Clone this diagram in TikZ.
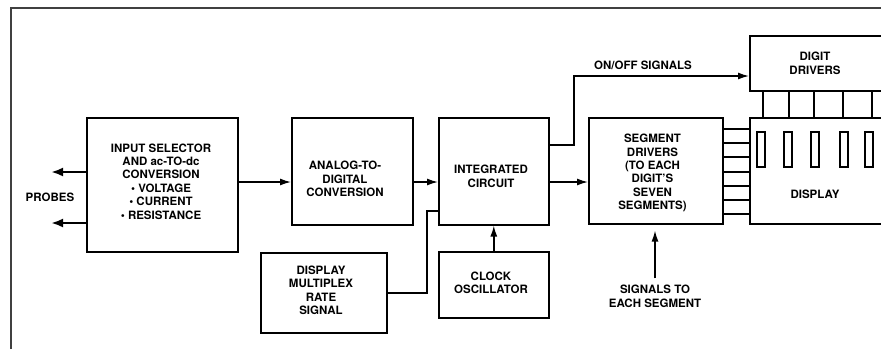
\documentclass[tikz,border=0pt]{standalone}
\usepackage{fontspec}
\setmainfont{TeX Gyre Heros}
\usetikzlibrary{arrows.meta,calc}
\begin{document}
\begin{tikzpicture}[x=1pt,y=-1pt,
  box/.style={draw, line width=1.6pt, inner sep=0pt, anchor=north west},
  txt/.style={font=\fontsize{11.5}{13.4}\selectfont\bfseries, align=center, inner sep=0pt},
  conn/.style={line width=1.4pt},
  arr/.style={conn, -{Latex[length=11pt,width=7pt]}},
  barr/.style={line width=2.4pt, -{Latex[length=12pt,width=9pt]}},
  frame/.style={draw=black!75, line width=1.1pt},
  seg7/.style={draw, line width=1.3pt}
]
\useasboundingbox (0,0) rectangle (881,349);
\clip (0,0) rectangle (881,349);

% frame
\draw[frame] (11,349) -- (11,8) -- (881,8);

% boxes
\node[box, minimum width=151pt, minimum height=134pt] (inp) at (86,117) {};
\node[box, minimum width=121pt, minimum height=107pt] (adc) at (291,117) {};
\node[box, minimum width=110pt, minimum height=107pt] (ic)  at (438,117) {};
\node[box, minimum width=126pt, minimum height=80pt]  (dmr) at (260,252) {};
\node[box, minimum width=110pt, minimum height=66pt]  (clk) at (438,251) {};
\node[box, minimum width=134pt, minimum height=106pt] (seg) at (588,117) {};
\node[box, minimum width=140pt, minimum height=55pt]  (dd)  at (749,35) {};
\node[box, minimum width=140pt, minimum height=106pt] (disp) at (749,117) {};

% texts
\node[txt] (inptxt) at (161,181.5) {INPUT SELECTOR\\AND ac-TO-dc\\CONVERSION\\\textbullet\ VOLTAGE\\\textbullet\ CURRENT\\\textbullet\ RESISTANCE};
\node[txt] (adctxt) at (345,179) {ANALOG-TO-\\DIGITAL\\CONVERSION};
\node[txt] (ictxt) at (491,176.5) {INTEGRATED\\CIRCUIT};
\node[txt] (dmrtxt) at (321,290.5) {DISPLAY\\MULTIPLEX\\RATE\\SIGNAL};
\node[txt] (clktxt) at (491,283) {CLOCK\\OSCILLATOR};
\node[txt] (segtxt) at (652.5,173) {SEGMENT\\DRIVERS\\(TO EACH\\DIGIT'S\\SEVEN\\SEGMENTS)};
\node[txt] (ddtxt) at (815,63.5) {DIGIT\\DRIVERS};
\node[txt] (disptxt) at (815,194) {DISPLAY};
\node[txt] (probes) at (50,197) {PROBES};
\node[txt] (onoff) at (643,65) {ON/OFF SIGNALS};
\node[txt] (sigtxt) at (655,296.5) {SIGNALS TO\\EACH SEGMENT};

% helper coordinates
\coordinate (mainy) at (0,182);
\coordinate (pa) at (51,172);
\coordinate (pb) at (51,223);
\coordinate (onA) at (574,145);
\coordinate (onB) at (574,76);
\coordinate (muxA) at (427,293);
\coordinate (muxB) at (427,211);

% probe arrows
\draw[barr] (inp.west |- pa) -- (pa);
\draw[barr] (inp.west |- pb) -- (pb);

% main flow
\draw[arr] (inp.east |- mainy) -- (adc.west |- mainy);
\draw[arr] (adc.east |- mainy) -- (ic.west |- mainy);
\draw[arr] (ic.east |- mainy) -- (seg.west |- mainy);

% on/off signals
\draw[arr] (ic.east |- onA) -- (onA) -- (onB) -- (dd.west |- onB);

% multiplex rate
\draw[conn] (dmr.east |- muxA) -- (muxA) -- (muxB) -- (ic.west |- muxB);

% clock
\draw[arr] (clk.north) -- (clk.north |- ic.south);

% signals to each segment
\draw[arr, shorten >=6pt] ($(sigtxt.north)+(0,-7)$) -- (sigtxt.north |- seg.south);

% segment lines
\foreach \yy in {129,143,157,172,186,200,214}
  \draw[conn] (seg.east |- 0,\yy) -- (disp.west |- 0,\yy);

% digit driver lines
\foreach \xx in {763,789,814,843,872}
  \draw[conn] (\xx,0 |- dd.south) -- (\xx,0 |- disp.north);

% digit bars
\foreach \xx in {757,784,811,840,865}
  \draw[seg7] (\xx,132) rectangle ++(8,35);
\end{tikzpicture}
\end{document}
